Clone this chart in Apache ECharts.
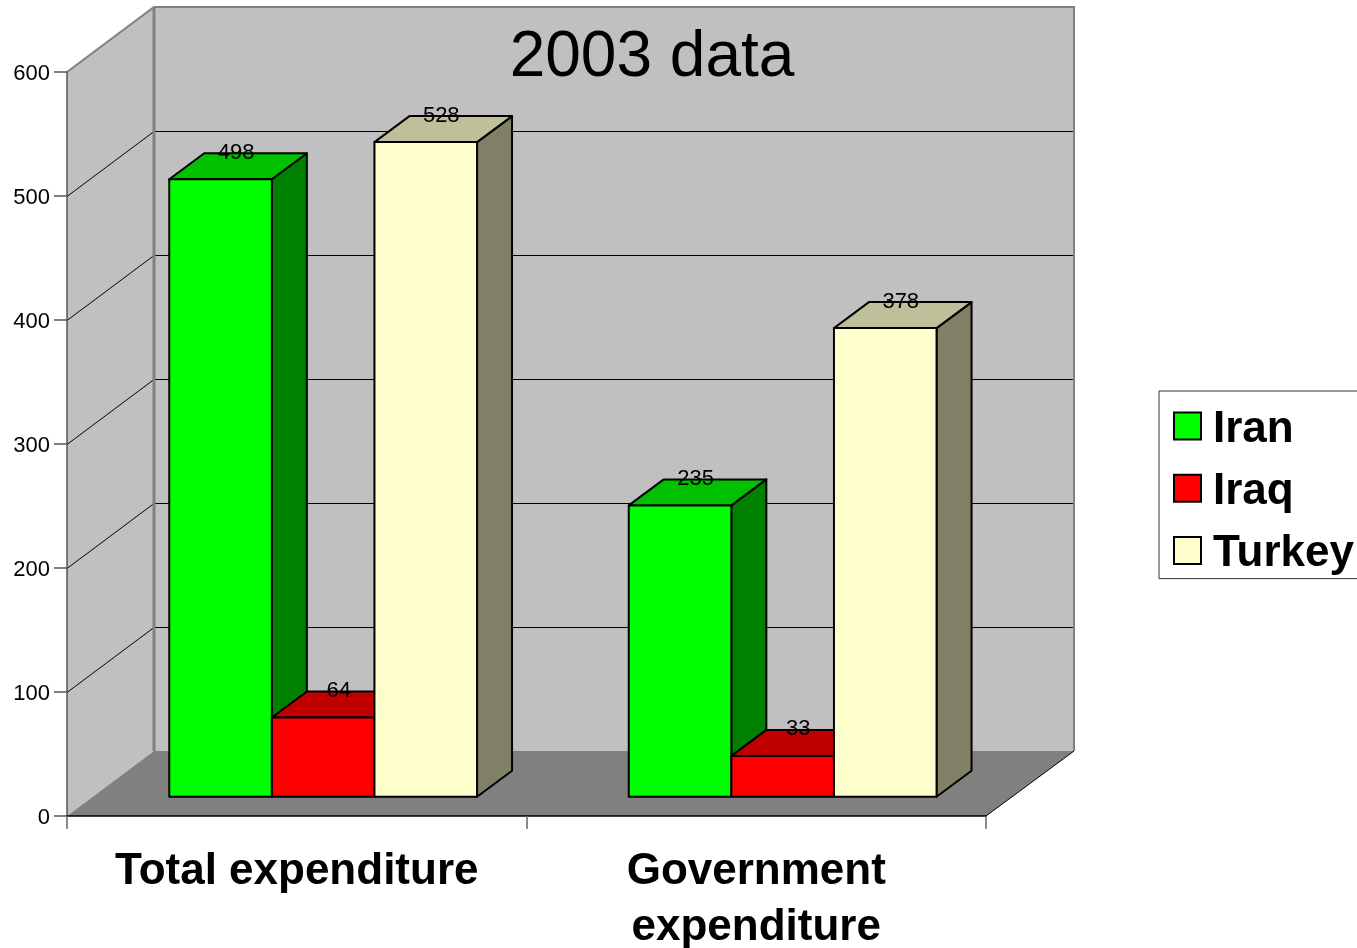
<!DOCTYPE html>
<html>
<head>
<meta charset="utf-8">
<style>html,body{margin:0;padding:0;background:#fff;overflow:hidden}#c{width:1357px;height:948px}</style>
<script src="https://cdn.jsdelivr.net/npm/echarts@6/dist/echarts.min.js"></script>
</head>
<body>
<div id="c"></div>
<script>
const categories = ['Total expenditure', 'Government\nexpenditure'];
const iran = [498, 235];
const iraq = [64, 33];
const turkey = [528, 378];
const yTicks = [100, 200, 300, 400, 500];

const FONT = '"Liberation Sans", Arial, sans-serif';
const WALL = [87, -65];      // depth of the whole box
const WALL_RIGHT_EXTRA = 1;  // the back wall runs one pixel past the front edge's depth
const BAR_POS = [26.4, -19.2]; // front plane of the bars inside the box
const BAR_DEPTH = [35, -26];
const BAR_W = 102.6;

function poly(points, fill, lineWidth) {
  return {
    type: 'polygon',
    shape: { points },
    style: { fill, stroke: '#000', lineWidth: lineWidth, lineJoin: 'round' }
  };
}

function barSeries(name, values, slot, front, top, side) {
  return {
    name,
    type: 'custom',
    z: 4,
    itemStyle: { color: front },
    data: values.map((v, i) => [i, v]),
    encode: { x: 0, y: 1 },
    renderItem(params, api) {
      const cat = api.value(0), val = api.value(1);
      const t = api.coord([cat, val]);
      const b = api.coord([cat, 0]);
      const x1 = t[0] + BAR_POS[0] + (slot - 0.5) * BAR_W;
      const x2 = x1 + BAR_W;
      const yT = t[1] + BAR_POS[1];
      const yB = b[1] + BAR_POS[1];
      const dx = BAR_DEPTH[0], dy = BAR_DEPTH[1];
      return {
        type: 'group',
        children: [
          poly([[x2, yT], [x2 + dx, yT + dy], [x2 + dx, yB + dy], [x2, yB]], side, 2),
          poly([[x1, yT], [x1 + dx, yT + dy], [x2 + dx, yT + dy], [x2, yT]], top, 2),
          poly([[x1, yT], [x2, yT], [x2, yB], [x1, yB]], front, 2),
          {
            type: 'text',
            z2: 100,
            style: {
              text: String(val),
              x: (x1 + x2) / 2 + 15.5,
              y: yT + dy - 0.5,
              align: 'center',
              verticalAlign: 'middle',
              fill: '#000',
              font: '22px ' + FONT
            }
          }
        ]
      };
    }
  };
}

const wallSeries = {
  name: 'walls',
  type: 'custom',
  z: 1,
  silent: true,
  data: [[0, 0]],
  encode: { x: 0, y: 1 },
  renderItem(params, api) {
    const g = params.coordSys;
    const L = g.x, R = g.x + g.width, T = g.y, B = g.y + g.height;
    const dx = WALL[0], dy = WALL[1];
    const RB = R + dx + WALL_RIGHT_EXTRA;
    const edge = { stroke: '#808080', lineWidth: 2, fill: null };
    const kids = [
      { type: 'polygon', shape: { points: [[L + dx, T + dy], [RB, T + dy], [RB, B + dy], [L + dx, B + dy]] }, style: { fill: '#c0c0c0' } },
      { type: 'polygon', shape: { points: [[L, T], [L + dx, T + dy], [L + dx, B + dy], [L, B]] }, style: { fill: '#c0c0c0' } },
      { type: 'polygon', shape: { points: [[L, B], [L + dx, B + dy], [RB, B + dy], [R, B]] }, style: { fill: '#808080' } }
    ];
    yTicks.forEach(v => {
      const y = Math.round(api.coord([0, v])[1]) + 0.5;
      kids.push({
        type: 'polyline',
        shape: { points: [[L, y], [L + dx, y + dy], [RB, y + dy]] },
        style: { stroke: '#000', lineWidth: 1, fill: null }
      });
    });
    kids.push(
      { type: 'polyline', shape: { points: [[L, T], [L + dx, T + dy], [RB, T + dy], [RB, B + dy]] }, style: edge },
      { type: 'line', shape: { x1: L + dx, y1: T + dy, x2: L + dx, y2: B + dy }, style: { stroke: '#808080', lineWidth: 3 } },
      { type: 'line', shape: { x1: R, y1: B, x2: RB, y2: B + dy }, style: { stroke: '#000', lineWidth: 1 } }
    );
    return { type: 'group', children: kids };
  }
};

const chart = echarts.init(document.getElementById('c'), null, { renderer: 'canvas' });
chart.setOption({
  animation: false,
  backgroundColor: '#fff',
  textStyle: { fontFamily: FONT },
  title: {
    text: '2003 data',
    left: 652,
    top: 26,
    padding: 0,
    textAlign: 'center',
    textStyle: { fontFamily: FONT, fontSize: 64, fontWeight: 'normal', color: '#000' }
  },
  legend: {
    data: ['Iran', 'Iraq', 'Turkey'],
    orient: 'vertical',
    left: 1159,
    top: 391,
    align: 'left',
    padding: [16.5, 4, 2.5, 14],
    itemWidth: 27,
    itemHeight: 27,
    itemGap: 18.3,
    icon: 'rect',
    selectedMode: false,
    backgroundColor: '#fff',
    borderColor: '#333',
    borderWidth: 1,
    itemStyle: { borderColor: '#000', borderWidth: 2 },
    formatter: '{t|{name}}',
    textStyle: {
      fontFamily: FONT, fontSize: 44, fontWeight: 'bold', color: '#000',
      rich: { t: { fontFamily: FONT, fontSize: 44, fontWeight: 'bold', color: '#000', padding: [7, 0, 0, 7] } }
    }
  },
  grid: { left: 67, top: 72, width: 919, height: 744, containLabel: false, outerBoundsMode: 'none' },
  xAxis: {
    type: 'category',
    data: categories,
    boundaryGap: true,
    z: 3,
    axisLine: { show: true, lineStyle: { color: '#000', width: 1.5 } },
    axisTick: { show: true, length: 13, alignWithLabel: false, lineStyle: { color: '#666', width: 1.5 } },
    axisLabel: { interval: 0, margin: 28, color: '#000', fontFamily: FONT, fontSize: 44, fontWeight: 'bold', lineHeight: 56, align: 'center' }
  },
  yAxis: {
    type: 'value',
    min: 0,
    max: 600,
    interval: 100,
    z: 3,
    splitLine: { show: false },
    axisLine: { show: true, lineStyle: { color: '#555', width: 1.5 } },
    axisTick: { show: true, length: 13, lineStyle: { color: '#555', width: 1.5 } },
    axisLabel: {
      margin: 17, color: '#000', fontFamily: FONT, fontSize: 22,
      formatter: '{v|{value}}',
      rich: { v: { fontFamily: FONT, fontSize: 22, color: '#000', padding: [4, 0, 0, 0] } }
    }
  },
  series: [
    wallSeries,
    barSeries('Iran', iran, -1, '#00ff00', '#00c000', '#008000'),
    barSeries('Iraq', iraq, 0, '#ff0000', '#c00000', '#800000'),
    barSeries('Turkey', turkey, 1, '#ffffcc', '#bfbf99', '#808066')
  ]
});
</script>
</body>
</html>
